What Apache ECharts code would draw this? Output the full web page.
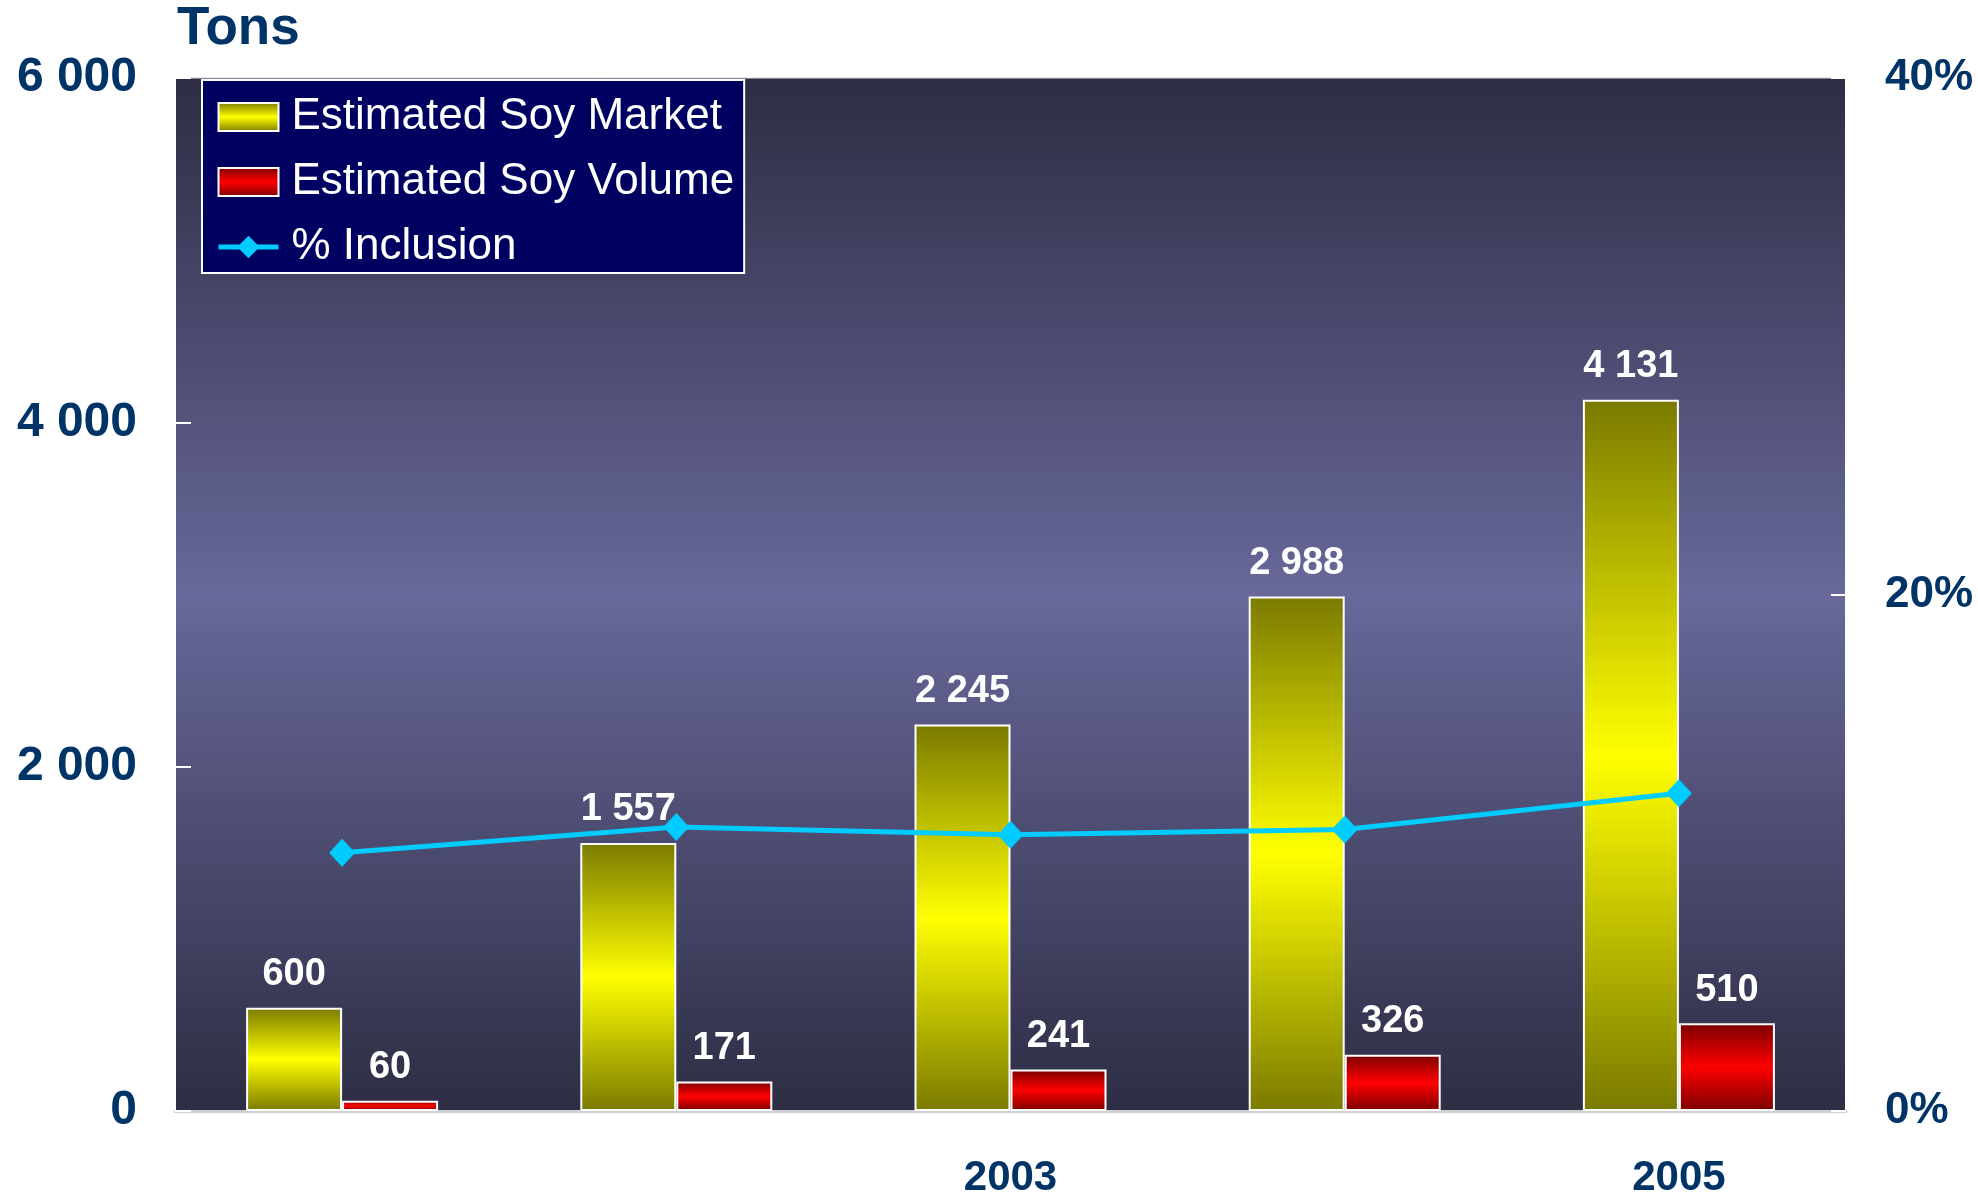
<!DOCTYPE html>
<html>
<head>
<meta charset="utf-8">
<script src="https://cdn.jsdelivr.net/npm/echarts@6/dist/echarts.min.js"></script>
<style>
  html, body { margin: 0; padding: 0; background: #fff; }
  #main { width: 1978px; height: 1200px; }
</style>
</head>
<body>
<div id="main"></div>
<script>
var myChart = echarts.init(document.getElementById('main'));

// data
var years = ['2001', '2002', '2003', '2004', '2005'];
var soyMarket = [600, 1557, 2245, 2988, 4131];
var soyVolume = [60, 171, 241, 326, 510];
var inclusion = [10.0, 11.0, 10.7, 10.9, 12.3];   // percent

var FONT = '"Liberation Sans", Arial, sans-serif';
var NAVY = '#003366';

function spaced(v) {
    return String(v).replace(/\B(?=(\d{3})+(?!\d))/g, ' ');
}

function vGrad(edge, mid) {
    return new echarts.graphic.LinearGradient(0, 0, 0, 1, [
        { offset: 0, color: edge },
        { offset: 0.5, color: mid },
        { offset: 1, color: edge }
    ]);
}

var barLabel = {
    show: true,
    position: 'top',
    distance: 14,
    color: '#fff',
    fontFamily: FONT,
    fontWeight: 'bold',
    fontSize: 38,
    formatter: function (p) { return spaced(p.value); }
};

option = {
    animation: false,
    title: {
        text: 'Tons',
        left: 172,
        top: -2,
        textStyle: { color: NAVY, fontFamily: FONT, fontWeight: 'bold', fontSize: 53 }
    },
    legend: {
        orient: 'vertical',
        left: 202,
        top: 80,
        padding: [15, 10, 4, 14],
        itemGap: 21,
        itemWidth: 60,
        itemHeight: 28,
        backgroundColor: '#000060',
        borderColor: '#fff',
        borderWidth: 2,
        lineStyle: { width: 5 },
        textStyle: { color: '#fff', fontFamily: FONT, fontSize: 44, padding: [0, 0, 0, 8] },
        data: [
            { name: 'Estimated Soy Market', icon: 'rect' },
            { name: 'Estimated Soy Volume', icon: 'rect' },
            '% Inclusion'
        ]
    },
    grid: {
        left: 175,
        right: 132,
        top: 78,
        bottom: 89,
        show: true,
        borderColor: '#d8d8e0',
        borderWidth: 1,
        backgroundColor: vGrad('#2d2d44', '#68689a')
    },
    xAxis: {
        type: 'category',
        data: years,
        axisLine: { lineStyle: { color: '#d0d0d0', width: 3 } },
        axisTick: { inside: true, length: 15, lineStyle: { color: '#fff', width: 2 } },
        axisLabel: {
            interval: function (index) { return index === 2 || index === 4; },
            margin: 46,
            color: NAVY,
            fontFamily: FONT,
            fontWeight: 'bold',
            fontSize: 42
        }
    },
    yAxis: [{
        type: 'value',
        min: 0,
        max: 6000,
        interval: 2000,
        splitLine: { show: false },
        axisLine: { show: true, lineStyle: { color: '#fff', width: 2 } },
        axisTick: { show: true, inside: true, length: 16, lineStyle: { color: '#fff', width: 2 } },
        axisLabel: {
            margin: 38,
            color: NAVY,
            fontFamily: FONT,
            fontWeight: 'bold',
            fontSize: 48,
            formatter: function (v) { return spaced(v); }
        }
    }, {
        type: 'value',
        min: 0,
        max: 40,
        interval: 20,
        splitLine: { show: false },
        axisLine: { show: true, lineStyle: { color: '#fff', width: 2 } },
        axisTick: { show: true, inside: true, length: 15, lineStyle: { color: '#fff', width: 2 } },
        axisLabel: {
            margin: 39,
            color: NAVY,
            fontFamily: FONT,
            fontWeight: 'bold',
            fontSize: 44,
            formatter: '{value}%'
        }
    }],
    series: [{
        name: 'Estimated Soy Market',
        type: 'bar',
        data: soyMarket,
        barWidth: 96,
        barGap: '0%',
        itemStyle: { color: vGrad('#7a7a00', '#ffff00'), borderColor: '#fff', borderWidth: 2 },
        label: barLabel
    }, {
        name: 'Estimated Soy Volume',
        type: 'bar',
        data: soyVolume,
        barWidth: 96,
        barGap: '0%',
        itemStyle: { color: vGrad('#7a0000', '#ff0000'), borderColor: '#fff', borderWidth: 2 },
        label: barLabel
    }, {
        name: '% Inclusion',
        type: 'line',
        yAxisIndex: 1,
        data: inclusion,
        symbol: 'diamond',
        symbolSize: [26, 28],
        z: 5,
        lineStyle: { color: '#00ccff', width: 5 },
        itemStyle: { color: '#00ccff' }
    }]
};

myChart.setOption(option);
</script>
</body>
</html>
